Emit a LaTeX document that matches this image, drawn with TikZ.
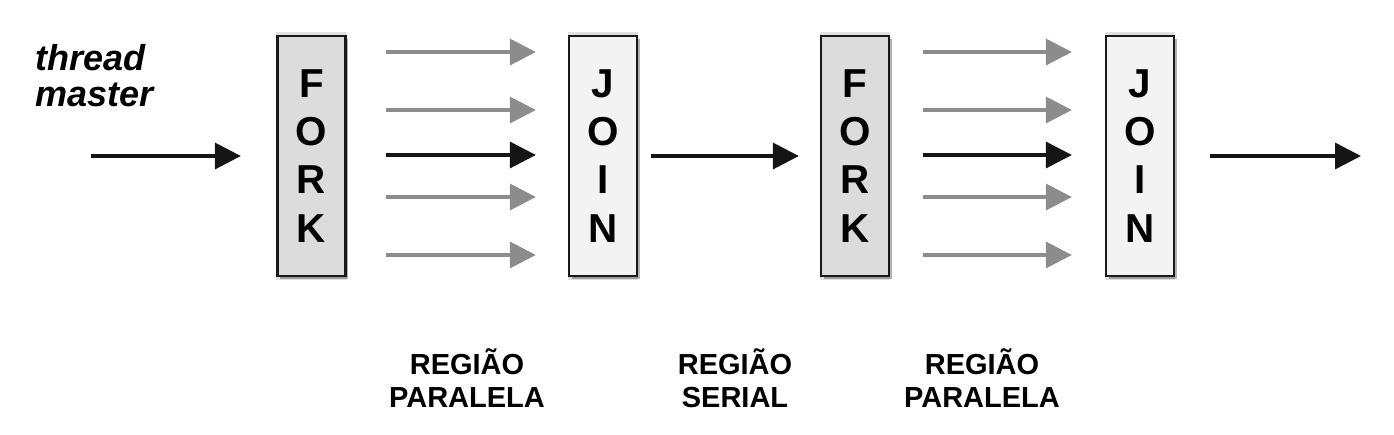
\documentclass[tikz,border=0pt]{standalone}
\usepackage{fontspec}
\setmainfont{Liberation Sans}
\usepackage{tikz}
\usetikzlibrary{shadows, positioning, arrows.meta}

\definecolor{forkgray}{HTML}{DCDCDC}
\definecolor{joingray}{HTML}{F3F3F3}
\definecolor{arrowgray}{HTML}{8C8C8C}
\definecolor{arrowblack}{HTML}{151515}

\begin{document}
\begin{tikzpicture}[x=0.02cm, y=-0.02cm,
    box/.style={draw=black!90, line width=1.3pt, minimum width=1.36cm, minimum height=4.8cm, inner sep=0pt, align=center,
      font=\bfseries\fontsize{23}{27.4}\selectfont,
      general shadow={fill=black, opacity=0.12, shadow scale=1.03},
      drop shadow={shadow xshift=1.5pt, shadow yshift=-1.5pt, opacity=0.3, fill=black}},
    flow/.style={line width=2pt, -{Triangle[length=0.52cm, width=0.52cm]}},
    region/.style={align=center, font=\bfseries\fontsize{16.5}{18.8}\selectfont}
  ]
    \useasboundingbox (0,0) rectangle (1394,434);
    \node [box, fill=forkgray] (fork1) at (311.5,156) {F\\O\\R\\K};
    \node [box, fill=joingray] (join1) at (603,156) {J\\O\\I\\N};
    \node [box, fill=forkgray] (fork2) at (855,156) {F\\O\\R\\K};
    \node [box, fill=joingray] (join2) at (1140,156) {J\\O\\I\\N};
    \node [anchor=north west, inner sep=0pt, align=left, font=\bfseries\itshape\fontsize{20.5}{20.5}\selectfont] (master) at (35,44) {thread\\master};
    \coordinate (start) at (91,156);
    \coordinate (finish) at (1361,156);
    \draw [flow, arrowblack, shorten >=0.71cm] (start) -- (fork1.west);
    \foreach \from/\to/\gapa/\gapb in {fork1/join1/0.78/0.64, fork2/join2/0.66/0.66}
      \foreach \dy/\col in {2.08/arrowgray, 0.92/arrowgray, 0.02/arrowblack, -0.82/arrowgray, -1.98/arrowgray}
        \draw [flow, \col, shorten <=\gapa cm, shorten >=\gapb cm] ([yshift=\dy cm]\from.east) -- ([yshift=\dy cm]\to.west);
    \draw [flow, arrowblack, shorten <=0.26cm, shorten >=0.42cm] (join1.east) -- (fork2.west);
    \draw [flow, arrowblack, shorten <=0.7cm] (join2.east) -- (finish);
    \node [region] (reg1) at (467,378.5) {REGIÃO\\PARALELA};
    \node [region] (reg2) at (735,378.5) {REGIÃO\\SERIAL};
    \node [region] (reg3) at (982,378.5) {REGIÃO\\PARALELA};
  \end{tikzpicture}
\end{document}
